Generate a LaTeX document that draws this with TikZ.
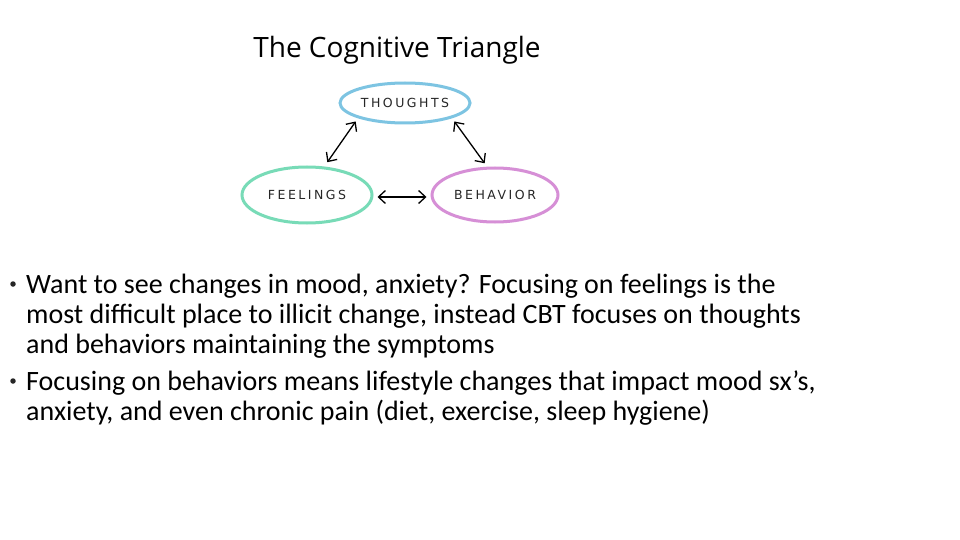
\documentclass[tikz,border=0pt]{standalone}
\usepackage{fontspec}
\setmainfont{Carlito}
\newfontfamily\handfont{Open Sans}
\newfontfamily\capsfont[LetterSpace=20]{DejaVu Sans}
\usetikzlibrary{arrows.meta,shapes.geometric}

\definecolor{thoughtblue}{RGB}{125,196,226}
\definecolor{feelgreen}{RGB}{120,219,183}
\definecolor{behavpink}{RGB}{214,143,214}

\begin{document}
\begin{tikzpicture}[x=1pt,y=-1pt,
    mood/.style={ellipse,draw,line width=3pt,inner sep=0pt,text=black!85,font=\capsfont\fontsize{12.5}{13}\selectfont},
    twoway/.style={{Straight Barb[length=7pt,width=13pt]}-{Straight Barb[length=7pt,width=13pt]},line width=1.3pt,shorten <=4pt,shorten >=4pt},
    slidetext/.style={font=\fontsize{28}{30}\selectfont,inner sep=0pt,align=left},
    dot/.style={circle,fill=black!85,inner sep=0pt,minimum size=5.5pt}]
  \useasboundingbox[fill=white] (0,0) rectangle (960,540);
  % Triangle picture
  \node[font=\handfont\fontsize{28}{30}\selectfont] (title) at (397,50) {The Cognitive Triangle};
  \node[mood,draw=thoughtblue,minimum width=130pt,minimum height=40pt] (thoughts) at (405,103) {THOUGHTS};
  \node[mood,draw=feelgreen,minimum width=130pt,minimum height=56pt] (feelings) at (307,195) {FEELINGS};
  \node[mood,draw=behavpink,minimum width=126pt,minimum height=54pt] (behavior) at (495,195) {BEHAVIOR};
  \draw[twoway] (thoughts.south west) -- ([xshift=18pt]feelings.north);
  \draw[twoway] (thoughts.south east) -- ([xshift=-8pt]behavior.north);
  \draw[twoway] ([yshift=-2pt]feelings.east) -- ([yshift=-2pt]behavior.west);
  % Bullet points (base anchor sits on the last line)
  \node[dot] (dotA) at (13,284) {};
  \node[slidetext,anchor=base west] (pointA) at (26,353) {Want to see changes in mood, anxiety? Focusing on feelings is the\\
    most difficult place to illicit change, instead CBT focuses on thoughts\\
    and behaviors maintaining the symptoms};
  \node[dot] (dotB) at (13,381) {};
  \node[slidetext,anchor=base west] (pointB) at (26,420) {Focusing on behaviors means lifestyle changes that impact mood sx’s,\\
    anxiety, and even chronic pain (diet, exercise, sleep hygiene)};
\end{tikzpicture}
\end{document}
